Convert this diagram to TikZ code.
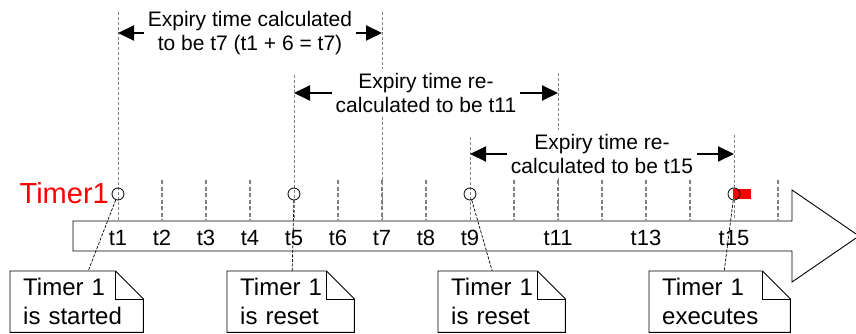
\documentclass[tikz,border=0pt]{standalone}
\usepackage{fontspec}
\setmainfont{Liberation Sans}
\usepackage{tikz}
\usetikzlibrary{arrows.meta}
\definecolor{timerRed}{HTML}{FF0000}
\definecolor{tickGray}{HTML}{808080}

\begin{document}
\begin{tikzpicture}[x=1pt, y=-1pt,
    timeTick/.style={tickGray, line width=1.4pt, dash pattern=on 4pt off 2.5pt},
    guideLine/.style={tickGray, line width=0.9pt, dash pattern=on 3pt off 2pt},
    hitCircle/.style={circle, draw, line width=0.8pt, minimum size=12pt, inner sep=0pt},
    spanText/.style={fill=white, align=center, inner sep=4pt, font=\fontsize{21}{24}\selectfont},
    spanArrow/.style={line width=2pt, -{Triangle[length=16pt, width=15pt]}},
    noteBox/.style={anchor=north west, minimum height=61pt, inner xsep=13pt, inner ysep=0pt,
        align=left, font=\fontsize{24}{29}\selectfont},
    noteLink/.style={line width=0.7pt, dash pattern=on 3pt off 1.5pt}]
    \useasboundingbox (0,0) rectangle (856,334);
    \draw[line width=0.9pt] (73,221) -- (792,221) -- (792,190) -- (859,236) -- (792,282)
        -- (792,251) -- (73,251) -- cycle;
    \foreach \i in {2,3,4,6,7,8,10,11,12,13,14,16}
        \draw[timeTick] ({74+44*\i},180) -- ({74+44*\i},220);
    \foreach \i/\y in {1/12, 5/75, 7/12, 9/137, 11/73, 15/135} {
        \coordinate (top\i) at ({74+44*\i},\y);
        \draw[guideLine] (top\i) -- ({74+44*\i},220);
    }
    \foreach \i in {1,...,9,11,13,15}
        \node[anchor=base, font=\fontsize{22}{26}\selectfont] (t\i) at ({74+44*\i},245) {t\i};
    \node[fill=timerRed, minimum width=18pt, minimum height=10pt, inner sep=0pt, anchor=west]
        (flag) at (733,194) {};
    \foreach \i in {1,5,9,15}
        \node[hitCircle] (c\i) at ({74+44*\i},194) {};
    \node[anchor=east, text=timerRed, inner sep=0pt, font=\fontsize{29}{34}\selectfont]
        (timer) at (109,193) {Timer1};

    \node[spanText] (e1) at (250,33) {Expiry time calculated\\to be t7 (t1 + 6 = t7)};
    \node[spanText] (e2) at (426,93) {Expiry time re-\\calculated to be t11};
    \node[spanText] (e3) at (602,154) {Expiry time re-\\calculated to be t15};
    \foreach \e/\a/\b in {e1/top1/top7, e2/top5/top11, e3/top9/top15} {
        \draw[spanArrow] (\e.west) -- (\e.west -| \a);
        \draw[spanArrow] (\e.east) -- (\e.east -| \b);
    }

    \node[noteBox, text width=107pt] (n1) at (10,271) {Timer 1\\is started};
    \node[noteBox, text width=101pt] (n2) at (227,271) {Timer 1\\is reset};
    \node[noteBox, text width=101pt] (n3) at (438,271) {Timer 1\\is reset};
    \node[noteBox, text width=115pt] (n4) at (649,271) {Timer 1\\executes};
    % dog-eared outlines
    \foreach \n in {n1,n2,n3,n4} {
        \draw[line width=0.9pt] (\n.south west) -- (\n.north west) -- ([xshift=-28pt]\n.north east)
            -- ([yshift=-28pt]\n.north east) -- (\n.south east) -- cycle;
        \draw[line width=0.9pt] ([xshift=-28pt]\n.north east) |- ([yshift=-28pt]\n.north east);
    }
    \foreach \i/\n/\s in {1/n1/11.5, 5/n2/1.5, 9/n3/-9.5, 15/n4/4.5}
        \draw[noteLink] (c\i) -- ([xshift=\s pt]\n.north);
\end{tikzpicture}
\end{document}
